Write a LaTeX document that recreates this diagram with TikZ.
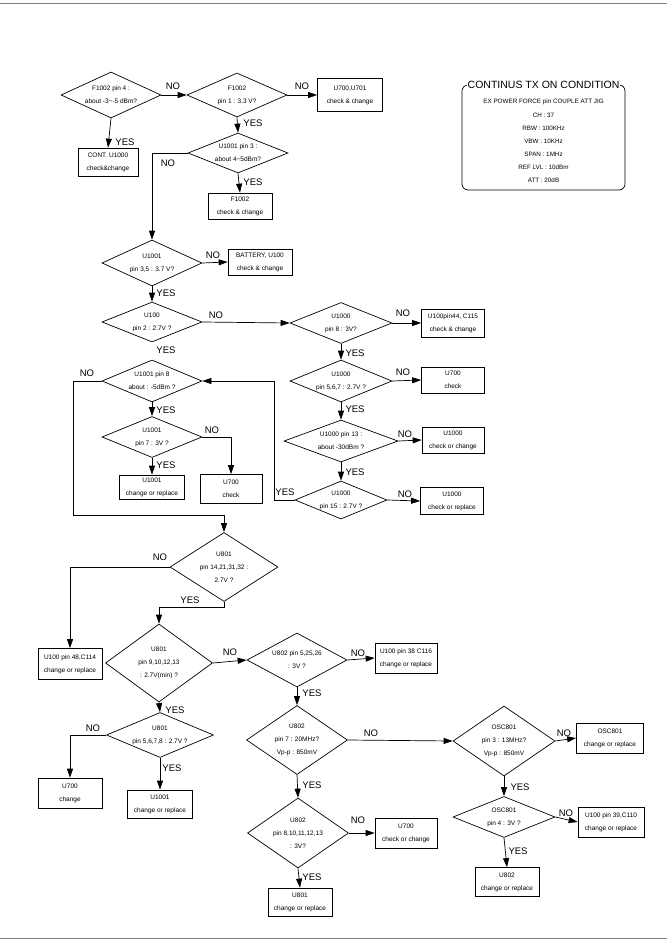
\documentclass[tikz,border=0pt]{standalone}
\usepackage{fontspec}
\setmainfont{Liberation Sans}
\usetikzlibrary{shapes.geometric,arrows.meta}
\tikzset{
 every node/.style={font=\fontsize{6.5}{13}\selectfont},
 dia/.style={diamond,draw,line width=0.7pt,inner sep=0pt},
 dtxt/.style={align=center,inner sep=0pt},
 bx/.style={rectangle,draw,line width=0.7pt,align=center,inner sep=1pt},
 lbl/.style={font=\fontsize{9.5}{10}\selectfont,inner sep=0pt},
 ctxt/.style={font=\fontsize{6.3}{8}\selectfont,inner sep=0pt},
 arr/.style={line width=0.7pt,-{Triangle[length=9pt,width=6pt]}},
 ln/.style={line width=0.7pt},
}
\begin{document}
\begin{tikzpicture}[x=1pt,y=-1pt]
\useasboundingbox (0,0) rectangle (667,942);
\draw[line width=0.5pt,gray] (0,3) -- (667,3);
\draw[line width=0.5pt,gray] (0,938) -- (667,938);

% ---- top section
\node[dia,minimum width=100pt,minimum height=46pt] (d1) at (111,95) {};
\node[dtxt] (d1t) at (d1) {F1002 pin 4 :\\about -3\textasciitilde-5 dBm?};
\node[bx,minimum width=60pt,minimum height=28pt] (b0) at (108,162) {CONT. U1000\\check\&change};
\node[dia,minimum width=100pt,minimum height=44pt] (d2) at (237,95) {};
\node[dtxt] (d2t) at (d2) {F1002\\pin 1 : 3.3 V?};
\node[bx,minimum width=65pt,minimum height=33pt] (b1) at (350,95) {U700,U701\\check \& change};
\node[dia,minimum width=100pt,minimum height=40pt] (d3) at (238,153) {};
\node[dtxt] (d3t) at (d3) {U1001 pin 3 :\\about 4\textasciitilde5dBm?};
\node[bx,minimum width=64pt,minimum height=26pt] (b2) at (240,206) {F1002\\check \& change};

% ---- condition box
\draw[ln,rounded corners=6pt] (462,85) rectangle (625,190);
\node[fill=white,inner sep=1pt,font=\fontsize{10.5}{12}\selectfont] (ct) at (543.5,85) {CONTINUS TX ON CONDITION};
\node[ctxt] (c1t) at (543.5,102) {EX POWER FORCE pin COUPLE ATT JIG};
\node[ctxt] (c2t) at (543.5,115) {CH : 37};
\node[ctxt] (c3t) at (543.5,128) {RBW : 100KHz};
\node[ctxt] (c4t) at (543.5,141) {VBW : 10KHz};
\node[ctxt] (c5t) at (543.5,154) {SPAN : 1MHz};
\node[ctxt] (c6t) at (543.5,167) {REF LVL : 10dBm};
\node[ctxt] (c7t) at (543.5,180) {ATT : 20dB};

% ---- middle section
\node[dia,minimum width=100pt,minimum height=46pt] (d4) at (152,263) {};
\node[dtxt] (d4t) at (d4) {U1001\\pin 3,5 : 3.7 V?};
\node[bx,minimum width=64pt,minimum height=26pt] (b3) at (260,262) {BATTERY, U100\\check \& change};
\node[dia,minimum width=100pt,minimum height=40pt] (d5) at (152,322) {};
\node[dtxt] (d5t) at (d5) {U100\\pin 2 : 2.7V ?};
\node[dia,minimum width=102pt,minimum height=41pt] (d6) at (341,323) {};
\node[dtxt] (d6t) at (d6) {U1000\\pin 8 : 3V?};
\node[bx,minimum width=63pt,minimum height=28pt] (b4) at (453,323) {U100pin44, C115\\check \& change};
\node[dia,minimum width=102pt,minimum height=42pt] (d7) at (341,381) {};
\node[dtxt] (d7t) at (d7) {U1000\\pin 5,6,7 : 2.7V ?};
\node[bx,minimum width=63pt,minimum height=26pt] (b5) at (453,380) {U700\\check};
\node[dia,minimum width=114pt,minimum height=42pt] (d8) at (341,441) {};
\node[dtxt] (d8t) at (d8) {U1000 pin 13 :\\about -30dBm ?};
\node[bx,minimum width=62pt,minimum height=26pt] (b6) at (453,440) {U1000\\check or change};
\node[dia,minimum width=92pt,minimum height=38pt] (d9) at (341,500) {};
\node[dtxt] (d9t) at (d9) {U1000\\pin 15 : 2.7V ?};
\node[bx,minimum width=63pt,minimum height=27pt] (b7) at (452,501) {U1000\\check or replace};
\node[dia,minimum width=100pt,minimum height=42pt] (d10) at (152,381) {};
\node[dtxt] (d10t) at (d10) {U1001 pin 8\\about : -5dBm ?};
\node[dia,minimum width=100pt,minimum height=41pt] (d11) at (152,437) {};
\node[dtxt] (d11t) at (d11) {U1001\\pin 7 : 3V ?};
\node[bx,minimum width=62pt,minimum height=29pt] (b8) at (231,489) {U700\\check};
\node[bx,minimum width=65pt,minimum height=24pt] (b9) at (152,487) {U1001\\change or replace};

% ---- lower section
\node[dia,minimum width=108pt,minimum height=69pt] (d12) at (224,567) {};
\node[dtxt] (d12t) at (d12) {U801\\pin 14,21,31,32 :\\2.7V ?};
\node[bx,minimum width=64pt,minimum height=31pt] (b10) at (70,664) {U100 pin 48,C114\\change or replace};
\node[dia,minimum width=107pt,minimum height=78pt] (d13) at (159,663) {};
\node[dtxt] (d13t) at (d13) {U801\\pin 9,10,12,13\\: 2.7V(min) ?};
\node[dia,minimum width=100pt,minimum height=54pt] (d14) at (297,660) {};
\node[dtxt] (d14t) at (d14) {U802 pin 5,25,26\\: 3V ?};
\node[bx,minimum width=62pt,minimum height=30pt] (b11) at (406,658) {U100 pin 38 C116\\change or replace};
\node[dia,minimum width=101pt,minimum height=69pt] (d15) at (297,740) {};
\node[dtxt] (d15t) at (d15) {U802\\pin 7 : 20MHz?\\Vp-p : 850mV};
\node[dia,minimum width=101pt,minimum height=70pt] (d16) at (298,833) {};
\node[dtxt] (d16t) at (d16) {U802\\pin 8,10,11,12,13\\: 3V?};
\node[bx,minimum width=62pt,minimum height=30pt] (b15) at (406,833) {U700\\check or change};
\node[bx,minimum width=64pt,minimum height=28pt] (b16) at (300,902) {U801\\change or replace};
\node[dia,minimum width=102pt,minimum height=70pt] (d17) at (504,741) {};
\node[dtxt] (d17t) at (d17) {OSC801\\pin 3 : 13MHz?\\Vp-p : 850mV};
\node[bx,minimum width=67pt,minimum height=30pt] (b12) at (610,738) {OSC801\\change or replace};
\node[dia,minimum width=102pt,minimum height=41pt] (d18) at (504,817) {};
\node[dtxt] (d18t) at (d18) {OSC801\\pin 4 : 3V ?};
\node[bx,minimum width=66pt,minimum height=30pt] (b13) at (611,822) {U100 pin 39,C110\\change or replace};
\node[bx,minimum width=64pt,minimum height=29pt] (b14) at (507,882) {U802\\change or replace};
\node[dia,minimum width=107pt,minimum height=45pt] (d19) at (160,735) {};
\node[dtxt] (d19t) at (d19) {U801\\pin 5,6,7,8 : 2.7V ?};
\node[bx,minimum width=64pt,minimum height=30pt] (b17) at (70,793) {U700\\change};
\node[bx,minimum width=65pt,minimum height=28pt] (b18) at (160,804) {U1001\\change or replace};

% ---- helper coordinates
\coordinate (k1) at (274,440);
\coordinate (k2) at (73,515);
\coordinate (k3) at (224,607);

% ---- connectors
\draw[arr] (d1.east) -- (d2.west);
\draw[arr] (d2.east) -- (b1.west);
\draw[arr] (d1.south) -- (b0.north);
\draw[arr] (d2.south) -- (d3.north);
\draw[arr] (d3.south) -- (b2.north);
\draw[arr] (d3.west) -| (d4.north);
\draw[arr] (d4.east) -- (b3.west);
\draw[arr] (d4.south) -- (d5.north);
\draw[arr] (d5.east) -- (d6.west);
\draw[arr] (d6.east) -- (b4.west);
\draw[arr] (d6.south) -- (d7.north);
\draw[arr] (d7.east) -- (b5.west);
\draw[arr] (d7.south) -- (d8.north);
\draw[arr] (d8.east) -- (b6.west);
\draw[arr] (d8.south) -- (d9.north);
\draw[arr] (d9.east) -- (b7.west);
\draw[arr] (d9.west) -- (d9.west -| k1) -- (d10.east -| k1) -- (d10.east);
\draw[arr] (d10.south) -- (d11.north);
\draw[arr] (d10.west) -- (d10.west -| k2) -- (k2) -- (k2 -| d12.north) -- (d12.north);
\draw[arr] (d11.east) -| (b8.north);
\draw[arr] (d11.south) -- (b9.north);
\draw[arr] (d12.west) -| (b10.north);
\draw[arr] (d12.south) -- (k3) -| (d13.north);
\draw[arr] (d13.east) -- (d14.west);
\draw[arr] (d14.east) -- (b11.west);
\draw[arr] (d14.south) -- (d15.north);
\draw[arr] (d15.east) -- (d17.west);
\draw[arr] (d17.east) -- (b12.west);
\draw[arr] (d17.south) -- (d18.north);
\draw[arr] (d18.east) -- (b13.west);
\draw[arr] (d18.south) -- (b14.north);
\draw[arr] (d15.south) -- (d16.north);
\draw[arr] (d16.east) -- (b15.west);
\draw[arr] (d16.south) -- (b16.north);
\draw[arr] (d13.south) -- (d19.north);
\draw[arr] (d19.west) -| (b17.north);
\draw[arr] (d19.south) -- (b18.north);

% ---- labels
\node[lbl] (l1) at (125,142) {YES};
\node[lbl] (l2) at (173,86) {NO};
\node[lbl] (l3) at (302,86) {NO};
\node[lbl] (l4) at (253,123) {YES};
\node[lbl] (l5) at (253,182) {YES};
\node[lbl] (l6) at (168,163) {NO};
\node[lbl] (l7) at (213,255) {NO};
\node[lbl] (l8) at (166,293) {YES};
\node[lbl] (l9) at (216,315) {NO};
\node[lbl] (l10) at (166,350) {YES};
\node[lbl] (l11) at (403,313) {NO};
\node[lbl] (l12) at (355,353) {YES};
\node[lbl] (l13) at (403,372) {NO};
\node[lbl] (l14) at (355,409) {YES};
\node[lbl] (l15) at (405,434) {NO};
\node[lbl] (l16) at (355,472) {YES};
\node[lbl] (l17) at (405,494) {NO};
\node[lbl] (l18) at (285,492) {YES};
\node[lbl] (l19) at (87,373) {NO};
\node[lbl] (l20) at (166,410) {YES};
\node[lbl] (l21) at (212,430) {NO};
\node[lbl] (l22) at (166,465) {YES};
\node[lbl] (l23) at (160,557) {NO};
\node[lbl] (l24) at (190,600) {YES};
\node[lbl] (l25) at (230,652) {NO};
\node[lbl] (l26) at (175,710) {YES};
\node[lbl] (l27) at (358,653) {NO};
\node[lbl] (l28) at (312,693) {YES};
\node[lbl] (l29) at (371,733) {NO};
\node[lbl] (l30) at (312,785) {YES};
\node[lbl] (l31) at (358,820) {NO};
\node[lbl] (l32) at (312,877) {YES};
\node[lbl] (l33) at (564,733) {NO};
\node[lbl] (l34) at (520,787) {YES};
\node[lbl] (l35) at (566,813) {NO};
\node[lbl] (l36) at (518,851) {YES};
\node[lbl] (l37) at (93,728) {NO};
\node[lbl] (l38) at (172,768) {YES};
\end{tikzpicture}
\end{document}
